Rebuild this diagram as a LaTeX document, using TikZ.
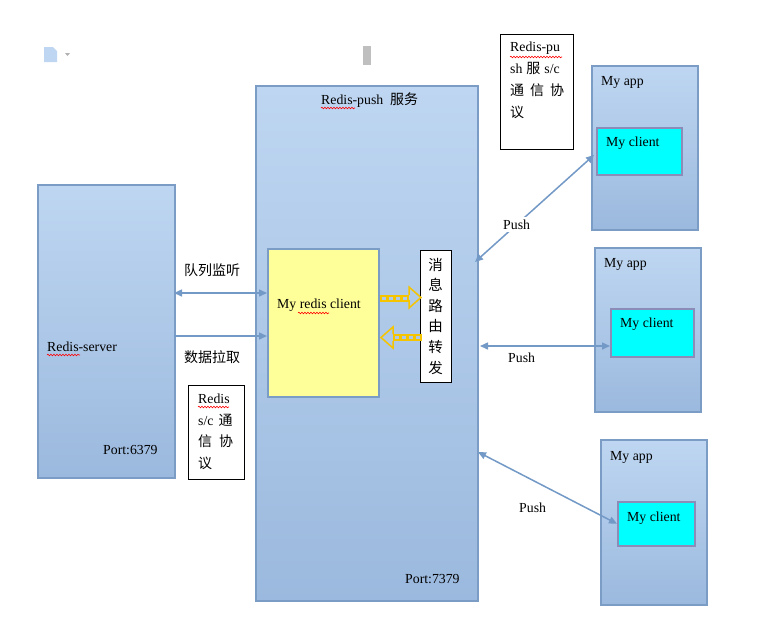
\documentclass[tikz,border=0pt]{standalone}
\usepackage{fontspec}
\setmainfont{Liberation Serif}
\newfontfamily\cjk{Noto Sans CJK SC}
\usetikzlibrary{arrows.meta,decorations.pathmorphing}

\definecolor{boxtop}{HTML}{BED6F1}
\definecolor{boxbot}{HTML}{9BB9DE}
\definecolor{boxline}{HTML}{7B9CC5}
\definecolor{linkblue}{HTML}{7399C6}
\definecolor{clientline}{HTML}{8C8CB8}
\definecolor{clientfill}{HTML}{00FFFF}
\definecolor{redisyellow}{HTML}{FFFF99}
\definecolor{routeyellow}{HTML}{F5C400}

\tikzset{
  bluebox/.style={rectangle, draw=boxline, line width=1.5pt, top color=boxtop,
    bottom color=boxbot, anchor=north west, inner sep=0pt},
  clientbox/.style={rectangle, draw=clientline, line width=1.5pt, fill=clientfill,
    anchor=north west, inner sep=0pt},
  notebox/.style={rectangle, draw=black, line width=0.8pt, fill=white,
    anchor=north west, inner sep=0pt},
  txt/.style={anchor=west, inner sep=0pt, font=\fontsize{13.8}{16}\selectfont},
  cjktxt/.style={inner sep=1pt, font=\cjk\fontsize{14}{16}\selectfont},
  link/.style={draw=linkblue, line width=1.5pt},
  squig/.style={draw=red, line width=0.6pt, decorate,
    decoration={snake, amplitude=0.8pt, segment length=3pt}},
}
\newcommand{\zh}[1]{{\cjk\fontsize{14}{16}\selectfont #1}}

\begin{document}
\begin{tikzpicture}[x=1pt, y=-1pt, >={Triangle[length=8pt, width=7pt]}]
\useasboundingbox[fill=white] (0,0) rectangle (759,638);

% toolbar bits
\fill[boxtop] (44,47) -- (53,47) -- (57,51) -- (57,62) -- (44,62) -- cycle;
\fill[gray!60] (65,53) -- (70,53) -- (67.5,56) -- cycle;
\fill[gray!50] (363,46) rectangle (371,65);

% redis server
\node[bluebox, minimum width=137pt, minimum height=293pt] (server) at (37,184) {};
\node[txt] (servername) at (47,347) {Redis-server};
\node[txt] (serverport) at (103,450) {Port:6379};

% redis-push service
\node[bluebox, minimum width=222pt, minimum height=515pt] (push) at (255,85) {};
\node[txt] (pushname) at (321,100) {Redis-push\ \ \zh{服务}};
\node[txt] (pushport) at (405,579) {Port:7379};

\node[rectangle, draw=boxline, line width=1.5pt, fill=redisyellow, anchor=north west,
  inner sep=0pt, minimum width=111pt, minimum height=148pt] (rclient) at (267,248) {};
\node[txt] (rclientname) at (277,305) {My redis client};

\node[notebox, minimum width=31pt, minimum height=132pt] (route) at (420,250) {};
\node[align=center, inner sep=0pt, font=\cjk\fontsize{14.5}{20.6}\selectfont]
  (routetxt) at (435.5,316) {消\\息\\路\\由\\转\\发};

% yellow route arrows
\foreach \x in {381,388,395,402}
  \draw[routeyellow, line width=1.3pt] (\x,296) rectangle +(6,5);
\draw[routeyellow, line width=1.5pt, line join=miter]
  (409,295) -- (409,287) -- (421,297.5) -- (409,308) -- (409,300);
\foreach \x in {394,401,408,415}
  \draw[routeyellow, line width=1.3pt] (\x,335) rectangle +(6,5);
\draw[routeyellow, line width=1.5pt, line join=miter]
  (393,334) -- (393,327) -- (381,337.5) -- (393,348) -- (393,341);

% server <-> redis client
\coordinate (q1) at (174,293);
\coordinate (q2) at (174,336);
\draw[link, <->] (q1) -- (rclient.west |- q1);
\draw[link, ->] (q2) -- (rclient.west |- q2);
\node[cjktxt] (listen) at (212,270) {队列监听};
\node[cjktxt, fill=white] (pull) at (212,357) {数据拉取};

% protocol notes
\node[notebox, minimum width=56pt, minimum height=94pt] (note1) at (188,385) {};
\node[anchor=north west, align=left, inner sep=0pt, font=\fontsize{13.8}{21.5}\selectfont]
  (note1txt) at (198,394) {Redis\\s/c\hspace{5pt}\zh{通}\\\zh{信}\hspace{7pt}\zh{协}\\\zh{议}};
\node[notebox, minimum width=73pt, minimum height=115pt] (note2) at (500,34) {};
\node[anchor=north west, align=left, inner sep=0pt, font=\fontsize{13.8}{22}\selectfont]
  (note2txt) at (510,42) {Redis-pu\\sh\hspace{4pt}\zh{服}\hspace{4pt}s/c\\\zh{通}\hspace{6pt}\zh{信}\hspace{6pt}\zh{协}\\\zh{议}};

% apps
\node[bluebox, minimum width=106pt, minimum height=164pt] (app1) at (591,65) {};
\node[txt] (app1name) at (601,82) {My app};
\node[clientbox, minimum width=85pt, minimum height=47pt] (client1) at (596,127) {};
\node[txt] (client1name) at (606,143) {My client};

\node[bluebox, minimum width=106pt, minimum height=164pt] (app2) at (594,247) {};
\node[txt] (app2name) at (604,264) {My app};
\node[clientbox, minimum width=83pt, minimum height=48pt] (client2) at (610,308) {};
\node[txt] (client2name) at (620,324) {My client};

\node[bluebox, minimum width=106pt, minimum height=165pt] (app3) at (600,439) {};
\node[txt] (app3name) at (610,457) {My app};
\node[clientbox, minimum width=77pt, minimum height=44pt] (client3) at (617,501) {};
\node[txt] (client3name) at (627,518) {My client};

% push links
\coordinate (p1) at (475,262);
\coordinate (p2) at (480,346);
\coordinate (p3) at (478,452);
\coordinate (c1) at (594,155);
\draw[link, <->] (p1) -- node[pos=0.35, fill=white, inner sep=3pt, font=\fontsize{13.8}{16}\selectfont] (push1) {Push} (c1);
\draw[link, <->] (p2) -- node[pos=0.32, below=6pt, inner sep=0pt, font=\fontsize{13.8}{16}\selectfont] (push2) {Push} (client2.west |- p2);
\draw[link, <->] (p3) -- (client3.west);
\node[txt] (push3) at (519,508) {Push};

% spelling squiggles
\draw[squig] (321,108) -- (355,108);
\draw[squig] (298,313) -- (329,313);
\draw[squig] (47,355) -- (80,355);
\draw[squig] (198,407) -- (229,407);
\draw[squig] (510,57) -- (562,57);
\end{tikzpicture}
\end{document}
